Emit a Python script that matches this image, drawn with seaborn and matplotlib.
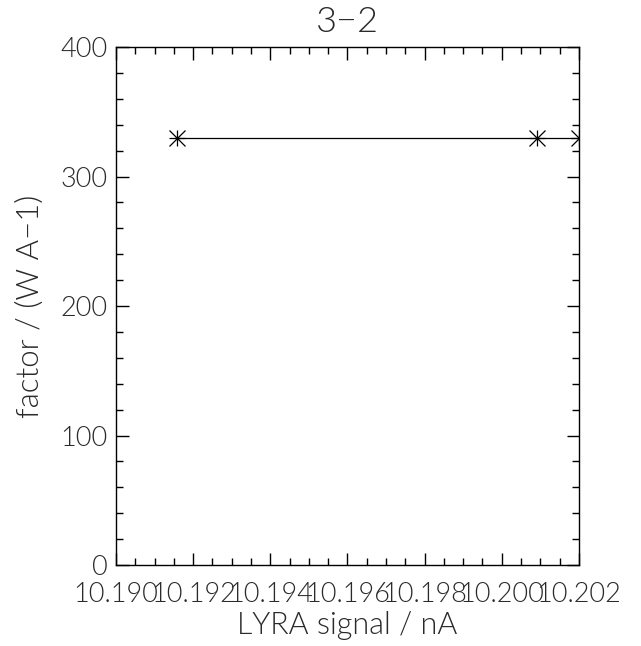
import matplotlib
matplotlib.use("Agg")
import matplotlib.pyplot as plt
from matplotlib.path import Path
from matplotlib.ticker import MultipleLocator, FormatStrFormatter
import seaborn as sns
import pandas as pd

# LYRA signal (nA) and calibration factor for channel 3-2
signal_na = [10.19159, 10.20091, 10.20200]
factor = [330.0, 330.0, 330.0]

title = "3\u22122"
xlabel = "LYRA signal / nA"
ylabel = "factor / (W A\u22121)"

df = pd.DataFrame({"signal": signal_na, "factor": factor})

# Asterisk symbol: a plus overlaid with a cross reaching the square corners
star = Path(
    [(-1, -1), (1, 1), (-1, 1), (1, -1), (0, -1), (0, 1), (-1, 0), (1, 0)],
    [Path.MOVETO, Path.LINETO] * 4,
)

sns.set_theme(style="white")
plt.rcParams["font.family"] = ["Lato", "DejaVu Sans"]
text_color = "#2a2a2a"
weight = 300

fig = plt.figure(figsize=(6.41, 6.46), dpi=100)
ax = fig.add_axes([0.181, 0.1254, 0.722, 0.8018])

sns.lineplot(data=df, x="signal", y="factor", ax=ax, color="black",
             linewidth=0.9, marker=star, markersize=11.5,
             markeredgewidth=0.9, markeredgecolor="black",
             markerfacecolor="none")

ax.set_xlim(10.190, 10.202)
ax.set_ylim(0, 400)
ax.xaxis.set_major_locator(MultipleLocator(0.002))
ax.xaxis.set_minor_locator(MultipleLocator(0.0005))
ax.xaxis.set_major_formatter(FormatStrFormatter("%.3f"))
ax.yaxis.set_major_locator(MultipleLocator(100))
ax.yaxis.set_minor_locator(MultipleLocator(20))

for side in ax.spines.values():
    side.set_color("black")
    side.set_linewidth(1.0)

ax.tick_params(which="both", direction="in", top=True, right=True,
               bottom=True, left=True, color="black", width=1.0,
               labelsize=19.5, labelcolor=text_color)
ax.tick_params(which="major", length=9)
ax.tick_params(which="minor", length=5)
ax.tick_params(axis="x", which="both", pad=12)
ax.tick_params(axis="y", which="both", pad=6)
for lab in ax.get_xticklabels() + ax.get_yticklabels():
    lab.set_fontweight(weight)

ax.set_title(title, fontsize=26, color=text_color, pad=11, fontweight=weight)
ax.set_xlabel(xlabel, fontsize=22, color=text_color, labelpad=3, fontweight=weight)
ax.set_ylabel(ylabel, fontsize=22.5, color=text_color, labelpad=11, fontweight=weight)

fig.savefig("out.png", dpi=100, facecolor="white")
